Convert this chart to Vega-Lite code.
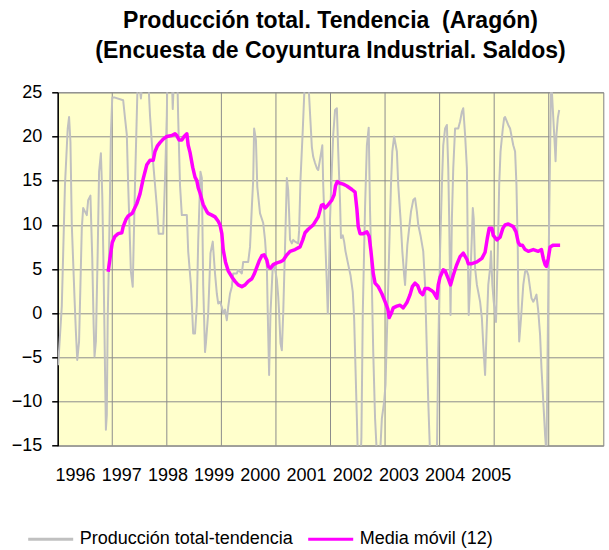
{
  "$schema": "https://vega.github.io/schema/vega-lite/v6.json",
  "width": 545.6,
  "height": 353.4,
  "autosize": {"type": "none"},
  "padding": {"left": 57.7, "top": 92.3, "right": 5.7, "bottom": 104.3},
  "background": "white",
  "config": {
    "view": {"fill": "#FFFFCC", "stroke": "#808080", "strokeWidth": 1},
    "font": "Liberation Sans",
    "axis": {"labelColor": "black", "labelFont": "Liberation Sans"},
    "legend": {"labelFont": "Liberation Sans", "labelFontSize": 18, "labelColor": "black", "labelLimit": 400}
  },
  "title": {
    "text": ["Producción total. Tendencia \u00a0(Aragón)", "(Encuesta de Coyuntura Industrial. Saldos)"],
    "font": "Liberation Sans",
    "fontSize": 23,
    "fontWeight": "bold",
    "color": "black",
    "anchor": "middle",
    "lineHeight": 30,
    "offset": 20
  },
  "datasets": {
    "gris": [
      {"t":0.1,"v":-5.9},{"t":0.9,"v":0.8},{"t":1.6,"v":14.5},{"t":2.2,"v":20.9},{"t":2.5,"v":22.2},{"t":2.8,"v":19.4},{"t":3.1,"v":10},{"t":3.7,"v":1.7},{"t":4.0,"v":-2.1},{"t":4.3,"v":-5.3},{"t":4.7,"v":-3.2},{"t":5.0,"v":3.2},{"t":5.3,"v":9.6},{"t":5.6,"v":11.9},{"t":6.2,"v":11.3},{"t":6.4,"v":11.1},{"t":6.7,"v":12.8},{"t":7.2,"v":13.3},{"t":7.6,"v":6.2},{"t":7.9,"v":-1.3},{"t":8.1,"v":-4.9},{"t":8.4,"v":-3.2},{"t":8.8,"v":7},{"t":9.1,"v":16},{"t":9.5,"v":18.1},{"t":9.8,"v":13.4},{"t":10.1,"v":4.7},{"t":10.4,"v":-6.2},{"t":10.6,"v":-13.2},{"t":10.8,"v":-11.5},{"t":11.0,"v":-0.6},{"t":11.3,"v":7},{"t":11.7,"v":20.2},{"t":12.0,"v":24.4},{"t":12.6,"v":24.4},{"t":14.4,"v":24.1},{"t":14.8,"v":22.1},{"t":15.2,"v":20.2},{"t":15.5,"v":14.5},{"t":16.1,"v":4.7},{"t":16.5,"v":3.0},{"t":17.0,"v":14.5},{"t":17.5,"v":24.5},{"t":17.7,"v":27},{"t":18.3,"v":24.3},{"t":18.8,"v":27},{"t":19.9,"v":27},{"t":20.1,"v":24.5},{"t":20.3,"v":22.4},{"t":21.0,"v":17},{"t":21.8,"v":12.1},{"t":22.2,"v":9},{"t":23.2,"v":9},{"t":23.6,"v":15.1},{"t":24.0,"v":22.4},{"t":24.1,"v":26},{"t":25.1,"v":27},{"t":25.3,"v":23.1},{"t":25.6,"v":27},{"t":26.3,"v":27},{"t":26.5,"v":22.1},{"t":26.9,"v":14.5},{"t":27.3,"v":11.1},{"t":28.4,"v":11.1},{"t":28.7,"v":7},{"t":29.3,"v":3.2},{"t":29.8,"v":-2.3},{"t":30.2,"v":-2.3},{"t":30.6,"v":0.9},{"t":30.9,"v":8.1},{"t":31.4,"v":16},{"t":31.7,"v":15.3},{"t":32.0,"v":3.2},{"t":32.4,"v":-4.4},{"t":32.6,"v":-3.4},{"t":33.1,"v":0},{"t":33.6,"v":6.8},{"t":34.1,"v":8.1},{"t":34.6,"v":4.5},{"t":35.0,"v":2.2},{"t":35.3,"v":1.1},{"t":35.7,"v":1.3},{"t":36.1,"v":0.7},{"t":36.4,"v":0},{"t":36.8,"v":0.4},{"t":37.2,"v":-0.8},{"t":37.5,"v":0.7},{"t":37.9,"v":2.2},{"t":38.3,"v":3},{"t":38.6,"v":4.5},{"t":39.4,"v":4.5},{"t":39.7,"v":4.9},{"t":40.5,"v":4.5},{"t":40.8,"v":5.8},{"t":41.9,"v":5.8},{"t":42.3,"v":7.5},{"t":42.7,"v":12},{"t":43.0,"v":15.1},{"t":43.2,"v":20.9},{"t":43.6,"v":19.6},{"t":43.9,"v":14.3},{"t":44.5,"v":11.3},{"t":45.2,"v":10.2},{"t":45.6,"v":8.3},{"t":46.0,"v":5.3},{"t":46.2,"v":0},{"t":46.5,"v":-7},{"t":46.8,"v":0},{"t":47.3,"v":5.3},{"t":47.6,"v":5.6},{"t":48.2,"v":3.8},{"t":48.5,"v":1.9},{"t":48.7,"v":0},{"t":49.0,"v":-3.4},{"t":49.3,"v":-4.2},{"t":49.6,"v":0},{"t":50.0,"v":7.5},{"t":50.4,"v":15.3},{"t":50.7,"v":13.9},{"t":50.9,"v":11.3},{"t":51.1,"v":8.3},{"t":51.5,"v":7.9},{"t":51.8,"v":8.3},{"t":52.2,"v":8.1},{"t":52.9,"v":7.9},{"t":53.1,"v":9.4},{"t":53.4,"v":15.1},{"t":53.9,"v":20.7},{"t":54.2,"v":24.5},{"t":54.4,"v":26.5},{"t":55.1,"v":26.5},{"t":55.5,"v":22.6},{"t":55.9,"v":18.8},{"t":56.2,"v":17.7},{"t":56.6,"v":17},{"t":57.0,"v":16.4},{"t":57.3,"v":16.2},{"t":57.7,"v":17.4},{"t":58.2,"v":19},{"t":58.4,"v":14.5},{"t":58.8,"v":8.8},{"t":59.2,"v":3.2},{"t":59.4,"v":0},{"t":59.6,"v":3.2},{"t":59.9,"v":10.7},{"t":60.3,"v":16.4},{"t":60.6,"v":20.2},{"t":61.0,"v":23},{"t":61.4,"v":23.2},{"t":61.7,"v":18.3},{"t":62.1,"v":12.6},{"t":62.3,"v":8.5},{"t":62.7,"v":8.8},{"t":63.0,"v":8.1},{"t":63.3,"v":7},{"t":63.9,"v":5.5},{"t":64.4,"v":4.3},{"t":64.9,"v":2.4},{"t":65.2,"v":-0.6},{"t":65.4,"v":-4.4},{"t":65.8,"v":-11.9},{"t":66.0,"v":-16},{"t":66.4,"v":-20},{"t":66.8,"v":-14},{"t":67.1,"v":0},{"t":67.6,"v":12},{"t":68.0,"v":19},{"t":68.4,"v":21},{"t":68.7,"v":11.5},{"t":69.1,"v":3.2},{"t":69.4,"v":-4.4},{"t":69.8,"v":-11.9},{"t":70.2,"v":-16},{"t":70.5,"v":-20},{"t":70.9,"v":-16},{"t":71.3,"v":-11.9},{"t":71.8,"v":-10},{"t":72.1,"v":-8.1},{"t":72.5,"v":-0.6},{"t":72.9,"v":7},{"t":73.3,"v":14.5},{"t":73.6,"v":18.3},{"t":74.0,"v":20},{"t":74.6,"v":18.3},{"t":74.9,"v":14.5},{"t":75.4,"v":10.7},{"t":75.8,"v":7},{"t":76.2,"v":4.3},{"t":76.4,"v":3.2},{"t":76.6,"v":5.1},{"t":76.9,"v":7.7},{"t":77.3,"v":9.6},{"t":77.7,"v":11.5},{"t":78.2,"v":12.8},{"t":78.6,"v":13},{"t":79.0,"v":11.5},{"t":79.3,"v":10},{"t":79.8,"v":8.8},{"t":80.4,"v":7},{"t":80.8,"v":3.2},{"t":81.2,"v":-4.4},{"t":81.5,"v":-10},{"t":81.9,"v":-16},{"t":82.5,"v":-22},{"t":83.4,"v":-16},{"t":83.7,"v":-4.4},{"t":84.1,"v":7},{"t":84.5,"v":14.5},{"t":84.8,"v":19},{"t":85.2,"v":20.9},{"t":85.6,"v":21.3},{"t":85.9,"v":16.4},{"t":86.1,"v":10.7},{"t":86.4,"v":-0.2},{"t":86.7,"v":10.7},{"t":87.0,"v":16.4},{"t":87.4,"v":20.9},{"t":88.1,"v":20.9},{"t":88.5,"v":21.7},{"t":88.9,"v":22.8},{"t":89.2,"v":23.2},{"t":89.6,"v":20.2},{"t":90.0,"v":16.4},{"t":90.2,"v":7},{"t":90.4,"v":-0.2},{"t":90.7,"v":3.2},{"t":91.1,"v":8.8},{"t":91.3,"v":11.9},{"t":91.5,"v":10.7},{"t":91.8,"v":5.1},{"t":92.2,"v":3.2},{"t":92.5,"v":2.4},{"t":92.9,"v":1.3},{"t":93.3,"v":-0.6},{"t":93.6,"v":-3.6},{"t":94.0,"v":-7},{"t":94.3,"v":-2.5},{"t":94.7,"v":3.2},{"t":95.1,"v":5.1},{"t":95.3,"v":7},{"t":95.6,"v":3.2},{"t":95.9,"v":1.3},{"t":96.4,"v":-1},{"t":96.8,"v":7},{"t":97.1,"v":14.5},{"t":97.4,"v":18.3},{"t":97.9,"v":20.9},{"t":98.2,"v":22.1},{"t":98.4,"v":22.2},{"t":99.1,"v":21.3},{"t":99.5,"v":20.9},{"t":100.2,"v":19},{"t":100.6,"v":18.3},{"t":100.9,"v":14.5},{"t":101.2,"v":7},{"t":101.3,"v":1.3},{"t":101.5,"v":-3.2},{"t":101.9,"v":-0.6},{"t":102.4,"v":3.2},{"t":102.8,"v":4.7},{"t":103.1,"v":4.9},{"t":103.5,"v":4.3},{"t":103.9,"v":2.8},{"t":104.2,"v":1.7},{"t":104.6,"v":1.3},{"t":105.0,"v":1.7},{"t":105.3,"v":2.1},{"t":105.7,"v":0.2},{"t":106.1,"v":-2.5},{"t":106.4,"v":-6.2},{"t":106.8,"v":-10},{"t":107.2,"v":-13.8},{"t":107.5,"v":-16},{"t":108.0,"v":7},{"t":108.5,"v":26},{"t":108.6,"v":26},{"t":109.0,"v":22.1},{"t":109.4,"v":18.3},{"t":109.5,"v":17.2},{"t":109.7,"v":20.2},{"t":110.0,"v":22.1},{"t":110.3,"v":23}
    ],
    "media": [
      {"t":11.1,"v":4.7},{"t":11.5,"v":6.2},{"t":12.0,"v":8.0},{"t":12.6,"v":8.7},{"t":13.3,"v":9.0},{"t":14.1,"v":9.1},{"t":14.4,"v":9.8},{"t":15.0,"v":10.6},{"t":15.5,"v":11.0},{"t":16.4,"v":11.3},{"t":17.4,"v":12.4},{"t":18.1,"v":13.5},{"t":18.8,"v":15.2},{"t":19.6,"v":16.8},{"t":20.3,"v":17.3},{"t":21.0,"v":17.3},{"t":21.4,"v":18.3},{"t":21.9,"v":18.9},{"t":22.5,"v":19.3},{"t":23.2,"v":19.7},{"t":24.0,"v":20.0},{"t":25.1,"v":20.1},{"t":25.8,"v":20.3},{"t":26.2,"v":20.1},{"t":26.7,"v":19.6},{"t":27.3,"v":19.6},{"t":27.8,"v":20.0},{"t":28.4,"v":20.3},{"t":28.7,"v":19.0},{"t":29.1,"v":18.2},{"t":29.7,"v":16.5},{"t":30.2,"v":15.4},{"t":30.6,"v":15.0},{"t":30.9,"v":14.2},{"t":31.3,"v":13.6},{"t":32.0,"v":12.3},{"t":32.8,"v":11.5},{"t":33.1,"v":11.3},{"t":33.9,"v":11.1},{"t":34.6,"v":10.9},{"t":35.3,"v":10.4},{"t":35.7,"v":10.0},{"t":36.1,"v":9.0},{"t":36.4,"v":7.2},{"t":36.9,"v":5.8},{"t":37.5,"v":4.8},{"t":38.3,"v":4.1},{"t":39.0,"v":3.6},{"t":39.7,"v":3.2},{"t":40.5,"v":3.0},{"t":41.2,"v":3.2},{"t":41.9,"v":3.6},{"t":42.7,"v":3.9},{"t":43.2,"v":4.4},{"t":43.8,"v":5.2},{"t":44.3,"v":5.9},{"t":44.9,"v":6.5},{"t":45.4,"v":6.6},{"t":46.0,"v":6.0},{"t":46.3,"v":5.3},{"t":46.8,"v":5.1},{"t":47.4,"v":5.5},{"t":48.2,"v":5.7},{"t":48.9,"v":5.8},{"t":49.6,"v":6.0},{"t":50.4,"v":6.6},{"t":51.1,"v":7.0},{"t":52.2,"v":7.2},{"t":53.3,"v":7.5},{"t":53.9,"v":8.3},{"t":54.4,"v":9.1},{"t":55.1,"v":9.5},{"t":56.2,"v":10.0},{"t":57.3,"v":10.9},{"t":58.0,"v":12.2},{"t":58.4,"v":12.3},{"t":58.8,"v":11.9},{"t":59.2,"v":12.1},{"t":60.3,"v":12.8},{"t":60.8,"v":13.4},{"t":61.1,"v":14.4},{"t":61.5,"v":14.9},{"t":62.1,"v":14.7},{"t":62.8,"v":14.6},{"t":63.6,"v":14.4},{"t":64.7,"v":14.0},{"t":65.4,"v":13.7},{"t":65.8,"v":11.8},{"t":66.1,"v":9.8},{"t":66.5,"v":9.0},{"t":67.2,"v":9.0},{"t":68.0,"v":9.2},{"t":68.5,"v":8.7},{"t":68.9,"v":7.0},{"t":69.4,"v":4.5},{"t":69.8,"v":3.4},{"t":70.5,"v":3.0},{"t":71.3,"v":2.2},{"t":72.0,"v":1.3},{"t":72.6,"v":0.5},{"t":72.9,"v":-0.5},{"t":73.3,"v":-0.1},{"t":73.8,"v":0.6},{"t":74.6,"v":0.8},{"t":75.3,"v":0.9},{"t":76.0,"v":0.6},{"t":76.8,"v":1.2},{"t":77.5,"v":2.1},{"t":78.0,"v":3.0},{"t":78.6,"v":3.4},{"t":79.2,"v":3.1},{"t":79.7,"v":2.4},{"t":80.3,"v":2.1},{"t":80.8,"v":2.8},{"t":81.5,"v":2.8},{"t":82.1,"v":2.6},{"t":82.6,"v":2.4},{"t":83.4,"v":1.7},{"t":83.7,"v":3.2},{"t":84.1,"v":4.1},{"t":84.8,"v":4.9},{"t":85.2,"v":4.8},{"t":85.9,"v":3.9},{"t":86.4,"v":3.2},{"t":87.0,"v":4.3},{"t":87.7,"v":5.4},{"t":88.5,"v":6.4},{"t":89.2,"v":6.8},{"t":90.0,"v":6.1},{"t":90.3,"v":5.6},{"t":91.1,"v":5.6},{"t":92.2,"v":5.8},{"t":93.3,"v":6.2},{"t":94.0,"v":6.9},{"t":94.5,"v":8.5},{"t":94.9,"v":9.6},{"t":95.5,"v":9.6},{"t":95.8,"v":8.8},{"t":96.6,"v":8.3},{"t":97.3,"v":8.6},{"t":97.9,"v":9.6},{"t":98.4,"v":10.0},{"t":99.1,"v":10.1},{"t":100.2,"v":9.8},{"t":100.8,"v":9.2},{"t":101.3,"v":8.0},{"t":101.7,"v":7.7},{"t":102.2,"v":7.7},{"t":102.8,"v":7.2},{"t":103.5,"v":7.0},{"t":104.6,"v":7.2},{"t":105.7,"v":7.0},{"t":106.4,"v":7.2},{"t":106.8,"v":6.2},{"t":107.2,"v":5.5},{"t":107.5,"v":5.3},{"t":107.9,"v":6.2},{"t":108.3,"v":7.5},{"t":109.0,"v":7.7},{"t":110.5,"v":7.7}
    ],
    "rejilla": [
      {"t":12},{"t":24},{"t":36},{"t":48},{"t":60},{"t":72},{"t":84},{"t":96},{"t":108}
    ],
    "anios": [
      {"anio":1996},{"anio":1997},{"anio":1998},{"anio":1999},{"anio":2000},{"anio":2001},{"anio":2002},{"anio":2003},{"anio":2004},{"anio":2005}
    ]
  },
  "layer": [
    {
      "layer": [
        {
          "data": {"name": "rejilla"},
          "mark": {"type": "rule", "color": "#8c8c8c", "strokeWidth": 1},
          "encoding": {
            "x": {"field": "t", "type": "quantitative", "scale": {"domain": [0, 120], "nice": false, "zero": false}, "axis": null}
          }
        },
        {
          "data": {"name": "gris"},
          "mark": {"type": "line", "clip": true, "strokeJoin": "round"},
          "encoding": {
            "x": {"field": "t", "type": "quantitative", "axis": null},
            "y": {"field": "v", "type": "quantitative", "scale": {"domain": [-15, 25], "nice": false, "zero": false},
                  "axis": {"values": [-15, -10, -5, 0, 5, 10, 15, 20, 25], "grid": true, "gridColor": "#8c8c8c", "gridWidth": 1, "gridOpacity": 1, "domainColor": "black", "domainWidth": 1.5, "tickColor": "black", "tickSize": 6, "tickWidth": 1.5, "labelFontSize": 18, "labelPadding": 10, "title": null}},
            "stroke": {"datum": "Producción total-tendencia", "type": "nominal", "scale": {"domain": ["Producción total-tendencia", "Media móvil (12)"], "range": ["#C0C0C0", "#FF00FF"]},
                       "legend": {"orient": "none", "legendX": -31, "legendY": 423, "direction": "horizontal", "title": null, "symbolType": "stroke", "symbolSize": 2025, "symbolStrokeWidth": 3, "labelFontSize": 18, "labelOffset": 5, "columnPadding": 8, "labelLimit": 400}},
            "strokeWidth": {"value": 2}
          }
        },
        {
          "mark": {"type": "rule", "color": "black", "strokeWidth": 3.5},
          "encoding": {"y": {"datum": 0}}
        },
        {
          "data": {"name": "media"},
          "mark": {"type": "line", "clip": true, "strokeJoin": "round"},
          "encoding": {
            "x": {"field": "t", "type": "quantitative"},
            "y": {"field": "v", "type": "quantitative"},
            "stroke": {"datum": "Media móvil (12)", "type": "nominal"},
            "strokeWidth": {"value": 3.5}
          }
        }
      ]
    },
    {
      "data": {"name": "anios"},
      "mark": {"type": "point", "opacity": 0},
      "encoding": {
        "x": {"field": "anio", "type": "quantitative", "scale": {"domain": [1995.625, 2007.435], "nice": false, "zero": false},
              "axis": {"orient": "bottom", "values": [1996, 1997, 1998, 1999, 2000, 2001, 2002, 2003, 2004, 2005], "format": "d", "grid": false, "ticks": false, "tickSize": 0, "domain": false, "labelFontSize": 18, "labelPadding": 21, "title": null}}
      }
    }
  ],
  "resolve": {"scale": {"x": "independent"}, "axis": {"x": "independent"}}
}
